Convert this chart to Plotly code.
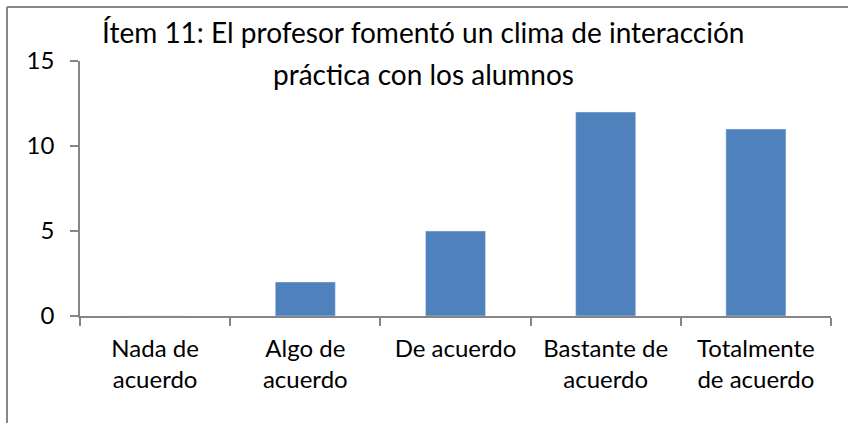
import plotly.graph_objects as go

categories = ["Nada de<br>acuerdo", "Algo de<br>acuerdo", "De acuerdo", "Bastante de<br>acuerdo", "Totalmente<br>de acuerdo"]
values = [0, 2, 5, 12, 11]
y_ticks = [0, 5, 10, 15]
title_lines = ["Ítem 11: El profesor fomentó un clima de interacción", "práctica con los alumnos"]

FONT = "Lato, 'Liberation Sans', sans-serif"
AXIS_COLOR = "#868686"

W, H = 848, 423
L, R, T, B = 80, 17, 61, 107
pw, ph = W - L - R, H - T - B

def px_x(p):
    return (p - L) / pw

def px_y(p):
    return (H - B - p) / ph

fig = go.Figure(go.Bar(x=categories, y=values, marker_color="#4F81BD", width=0.4))

fig.update_layout(
    width=W, height=H,
    margin=dict(l=L, r=R, t=T, b=B),
    paper_bgcolor="white", plot_bgcolor="white",
    showlegend=False,
    font=dict(family=FONT, size=24, color="#000000"),
    xaxis=dict(
        showline=True, linecolor=AXIS_COLOR, linewidth=1.5,
        ticks="outside", ticklen=8, tickcolor=AXIS_COLOR, tickwidth=1.5,
        tickson="boundaries", showgrid=False,
        tickfont=dict(size=24), ticklabelstandoff=10,
    ),
    yaxis=dict(
        range=[0, 15], tickvals=y_ticks,
        showline=True, linecolor=AXIS_COLOR, linewidth=1.5,
        ticks="outside", ticklen=8, tickcolor=AXIS_COLOR, tickwidth=1.5,
        showgrid=False, zeroline=False,
        tickfont=dict(size=24), ticklabelstandoff=11,
    ),
)

for txt, yp in zip(title_lines, [32, 74]):
    fig.add_annotation(text=txt, xref="paper", yref="paper", x=px_x(423), y=px_y(yp),
                       xanchor="center", yanchor="middle", showarrow=False,
                       font=dict(family=FONT, size=28, color="#000000"))

# chart-area border (visible top and left edges)
fig.add_shape(type="line", xref="paper", yref="paper",
              x0=px_x(7), x1=px_x(860), y0=px_y(7), y1=px_y(7),
              line=dict(color=AXIS_COLOR, width=2))
fig.add_shape(type="line", xref="paper", yref="paper",
              x0=px_x(7), x1=px_x(7), y0=px_y(7), y1=px_y(440),
              line=dict(color=AXIS_COLOR, width=2))

fig.write_html("out.html", config={"displayModeBar": False},
               post_script="document.body.style.margin='0';")
